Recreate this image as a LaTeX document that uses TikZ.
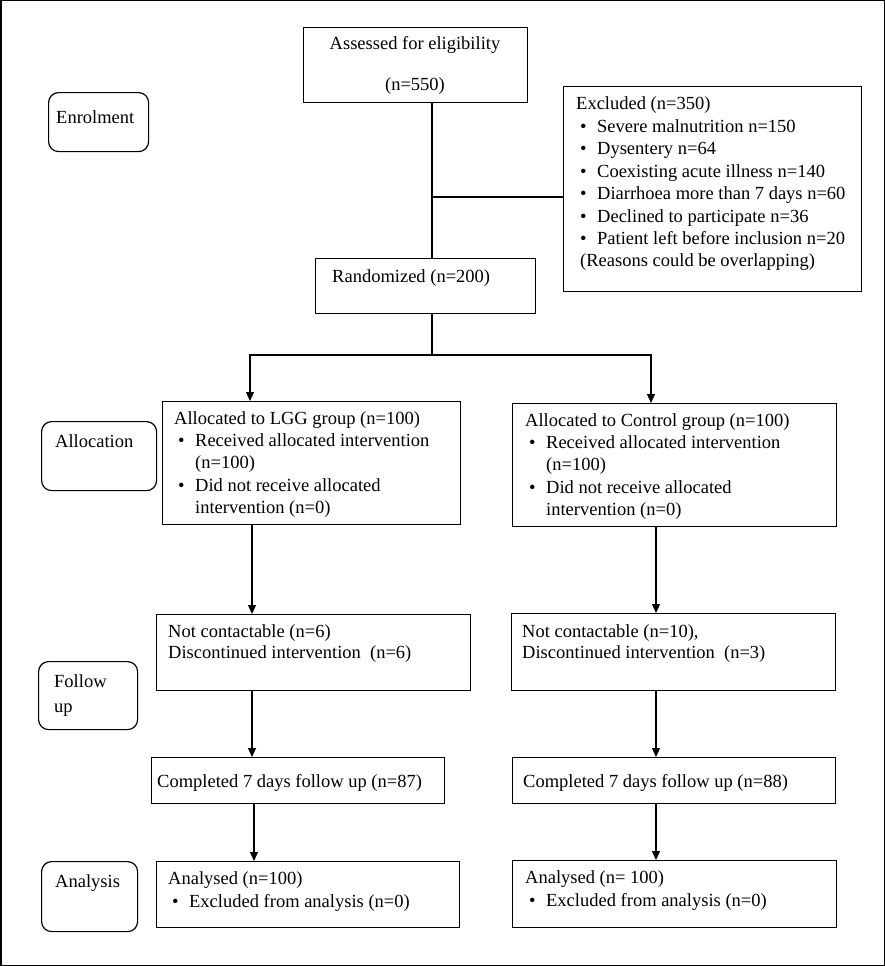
\documentclass[tikz,border=0pt]{standalone}
\usepackage{fontspec}
\setmainfont{Liberation Serif}
\usetikzlibrary{arrows.meta}
\newcommand{\fs}{\fontsize{18.5}{22.5}\selectfont}
\newcommand{\bul}{\hspace*{4pt}\makebox[17pt][l]{\textbullet}}
\newcommand{\ind}{\hspace*{21pt}}
\begin{document}
\begin{tikzpicture}[x=1pt,y=-1pt,
  box/.style={draw, line width=1.2pt, anchor=north west, inner sep=0pt},
  lab/.style={draw, line width=1.2pt, rounded corners=10pt, anchor=north west, inner sep=0pt},
  txt/.style={anchor=base west, inner sep=0pt, font=\fs},
  conn/.style={line width=1.2pt},
  arr/.style={conn, -{Triangle[length=9pt,width=8pt]}}]
\useasboundingbox (0,0) rectangle (885,966);
\draw[line width=1.5pt] (0.75,0.75) rectangle (884.25,965.25);

% boxes
\node[box, minimum width=224pt, minimum height=75pt] (ass) at (303,27) {};
\node[box, minimum width=298pt, minimum height=205pt] (exc) at (563,86) {};
\node[box, minimum width=220pt, minimum height=55pt] (rand) at (315,258) {};
\node[box, minimum width=298pt, minimum height=123pt] (lgg) at (162,401) {};
\node[box, minimum width=324pt, minimum height=123pt] (ctl) at (512,403) {};
\node[box, minimum width=314pt, minimum height=76pt] (ncl) at (156,614) {};
\node[box, minimum width=324pt, minimum height=77pt] (ncr) at (511,613) {};
\node[box, minimum width=293pt, minimum height=46pt] (cpl) at (151,757) {};
\node[box, minimum width=323pt, minimum height=46pt] (cpr) at (512,757) {};
\node[box, minimum width=303pt, minimum height=66pt] (anl) at (156,861) {};
\node[box, minimum width=324pt, minimum height=67pt] (anr) at (512,860) {};

% stage labels
\node[lab, minimum width=100pt, minimum height=59pt] (enr) at (48,92) {};
\node[lab, minimum width=115pt, minimum height=69pt] (alo) at (41,421) {};
\node[lab, minimum width=99pt, minimum height=68pt] (fol) at (38,661) {};
\node[lab, minimum width=96pt, minimum height=70pt] (ana) at (41,861) {};

% texts
\node[txt, anchor=base] (tass) at (415,49.5) {\begin{tabular}[t]{@{}c@{}}Assessed for eligibility\\[18.5pt] (n=550)\end{tabular}};
\node[txt] (texc) at (576,109.5) {\begin{tabular}[t]{@{}l@{}}Excluded (n=350)\\
\bul Severe malnutrition n=150\\
\bul Dysentery n=64\\
\bul Coexisting acute illness n=140\\
\bul Diarrhoea more than 7 days n=60\\
\bul Declined to participate n=36\\
\bul Patient left before inclusion n=20\\
\hspace*{4pt}(Reasons could be overlapping)\end{tabular}};
\node[txt] (trand) at (332,282.5) {Randomized (n=200)};
\node[txt] (tlgg) at (174,424.5) {\begin{tabular}[t]{@{}l@{}}Allocated to LGG group (n=100)\\[-0.3pt]
\bul Received allocated intervention\\[-0.3pt]
\ind (n=100)\\[-0.3pt]
\bul Did not receive allocated\\[-0.3pt]
\ind intervention (n=0)\end{tabular}};
\node[txt] (tctl) at (525,426.5) {\begin{tabular}[t]{@{}l@{}}Allocated to Control group (n=100)\\[-0.3pt]
\bul Received allocated intervention\\[-0.3pt]
\ind (n=100)\\[-0.3pt]
\bul Did not receive allocated\\[-0.3pt]
\ind intervention (n=0)\end{tabular}};
\node[txt] (tncl) at (168,637.5) {\begin{tabular}[t]{@{}l@{}}Not contactable (n=6)\\[-1.5pt]
Discontinued intervention\ \ (n=6)\end{tabular}};
\node[txt] (tncr) at (522,637.5) {\begin{tabular}[t]{@{}l@{}}Not contactable (n=10),\\[-1.5pt]
Discontinued intervention\ \ (n=3)\end{tabular}};
\node[txt] (tcpl) at (157,787.5) {Completed 7 days follow up (n=87)};
\node[txt] (tcpr) at (523,787.5) {Completed 7 days follow up (n=88)};
\node[txt] (tanl) at (168,884.5) {\begin{tabular}[t]{@{}l@{}}Analysed (n=100)\\[0.5pt]
\bul Excluded from analysis (n=0)\end{tabular}};
\node[txt] (tanr) at (525,883.5) {\begin{tabular}[t]{@{}l@{}}Analysed (n= 100)\\[0.5pt]
\bul Excluded from analysis (n=0)\end{tabular}};

\node[txt] (tenr) at (56,123.5) {Enrolment};
\node[txt] (talo) at (55,447.5) {Allocation};
\node[txt] (tfol) at (54,687.5) {\begin{tabular}[t]{@{}l@{}}Follow\\[2.5pt] up\end{tabular}};
\node[txt] (tana) at (55,887.5) {Analysis};

% connector guide coordinates
\coordinate (trunk) at (432,0);
\coordinate (brx) at (432,197);
\coordinate (split) at (432,355);
\coordinate (la) at (250,0);
\coordinate (ra) at (651,0);
\coordinate (c1) at (252,0);
\coordinate (c2) at (656,0);
\coordinate (c3) at (254,0);

% connectors
\draw[conn] (ass.south -| trunk) -- (rand.north -| trunk);
\draw[conn] (brx) -- (brx -| exc.west);
\draw[conn] (rand.south -| trunk) -- (split);
\draw[arr] (split) -| (la |- lgg.north);
\draw[arr] (split) -| (ra |- ctl.north);
\draw[arr] (lgg.south -| c1) -- (ncl.north -| c1);
\draw[arr] (ctl.south -| c2) -- (ncr.north -| c2);
\draw[arr] (ncl.south -| c1) -- (cpl.north -| c1);
\draw[arr] (ncr.south -| c2) -- (cpr.north -| c2);
\draw[arr] (cpl.south -| c3) -- (anl.north -| c3);
\draw[arr] (cpr.south -| c2) -- (anr.north -| c2);
\end{tikzpicture}
\end{document}
